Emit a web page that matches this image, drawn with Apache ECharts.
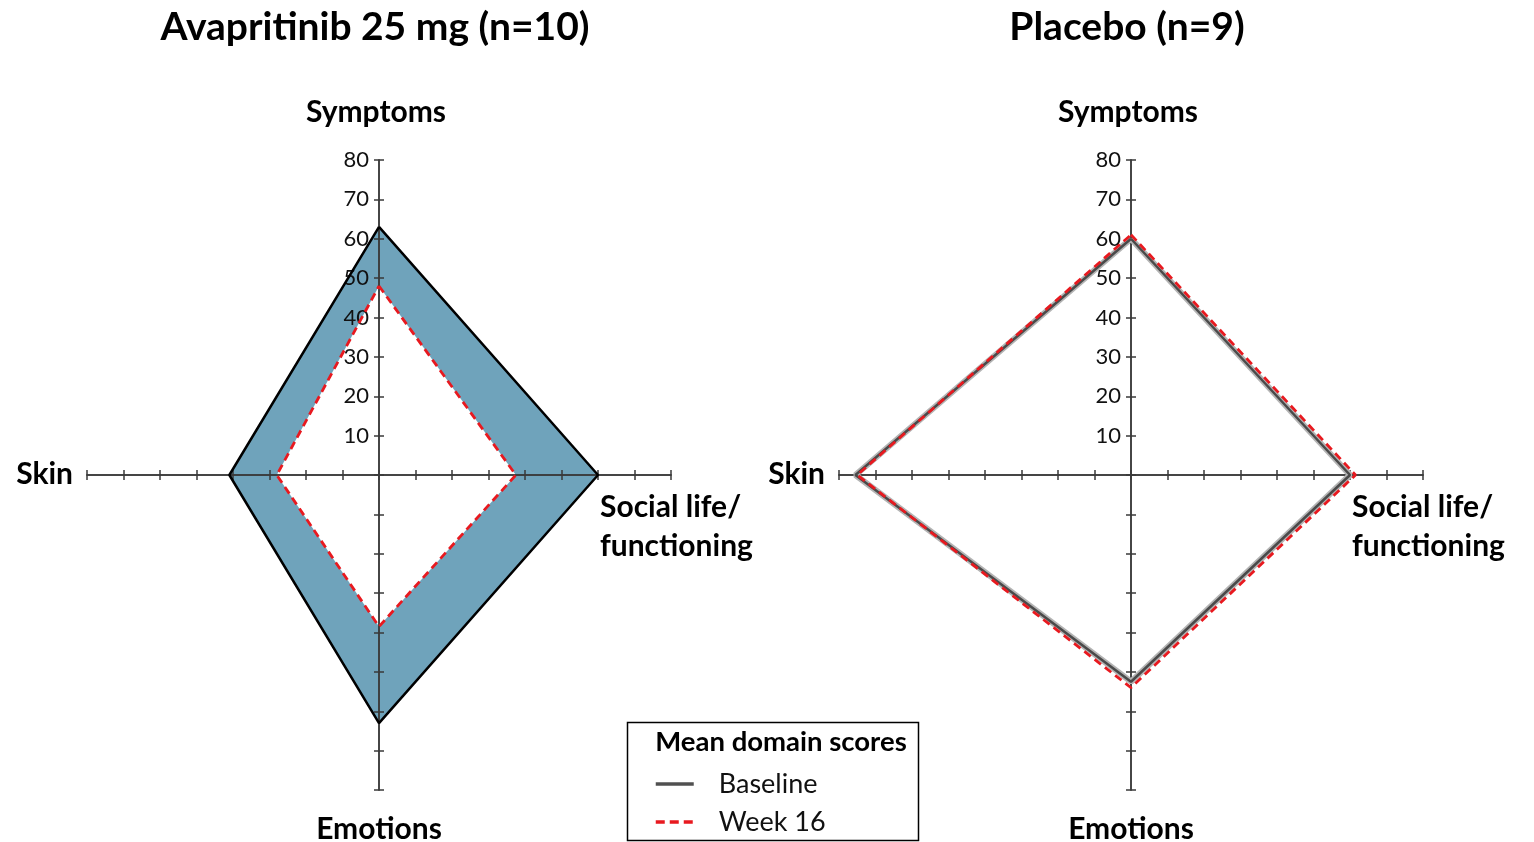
<!DOCTYPE html>
<html>
<head>
<meta charset="utf-8">
<script src="https://cdn.jsdelivr.net/npm/echarts@6/dist/echarts.min.js"></script>
<style>
html,body{margin:0;padding:0;background:#fff;}
#chart{width:1534px;height:842px;}
</style>
</head>
<body>
<div id="chart"></div>
<script>
// ---- data ----
const panelTitles = ['Avapritinib 25 mg (n=10)', 'Placebo (n=9)'];
const categories = ['Symptoms', 'Social life/\nfunctioning', 'Emotions', 'Skin'];
const seriesNames = ['Baseline', 'Week 16'];
const legendTitle = 'Mean domain scores';
const avaBaseline = [63, 60, 63, 41];
const avaWeek16 = [48, 37.5, 38.5, 28];
const plcBaseline = [60, 60, 52.5, 75.5];
const plcWeek16 = [61, 61.5, 54, 75];
const axisMax = 80;
const tickStep = 10;

// ---- helpers ----
const FONT = 'Lato';
const RED = '#e8191f';
function closedPath(v) {
  return [[0, v[0]], [v[1], 0], [0, -v[2]], [-v[3], 0], [0, v[0]]];
}
function polygonSeries(vals, fill, gi, z) {
  return {
    type: 'custom', xAxisIndex: gi * 2, yAxisIndex: gi * 2, silent: true, z: z,
    data: [vals],
    renderItem: function (params, api) {
      const pts = [
        api.coord([0, api.value(0)]),
        api.coord([api.value(1), 0]),
        api.coord([0, -api.value(2)]),
        api.coord([-api.value(3), 0])
      ];
      return { type: 'polygon', shape: { points: pts }, style: { fill: fill } };
    }
  };
}
function lineSeries(name, vals, gi, style, z) {
  return {
    type: 'line', name: name, xAxisIndex: gi * 2, yAxisIndex: gi * 2,
    data: closedPath(vals), symbol: 'none', silent: true, z: z,
    itemStyle: { color: style.color },
    lineStyle: style
  };
}
const GRID_W = 584, GRID_H = 630;
const axisLineStyle = { color: '#3a3a3a', width: 1.5 };
function xAx(gi, pos) {
  return {
    type: 'value', gridIndex: gi, position: pos, offset: -GRID_H / 2, z: 3,
    min: -axisMax, max: axisMax, interval: tickStep,
    axisLine: { show: true, onZero: false, lineStyle: axisLineStyle },
    axisTick: { show: true, length: 5, lineStyle: axisLineStyle },
    axisLabel: { show: false }, splitLine: { show: false }
  };
}
function yAx(gi, pos, labels) {
  return {
    type: 'value', gridIndex: gi, position: pos, offset: -GRID_W / 2, z: 3,
    min: -axisMax, max: axisMax, interval: tickStep,
    axisLine: { show: true, onZero: false, lineStyle: axisLineStyle },
    axisTick: { show: true, length: 5, lineStyle: axisLineStyle },
    axisLabel: {
      show: labels, margin: 10, fontFamily: FONT, fontSize: 22, color: '#111',
      formatter: function (v) { return v > 0 ? String(v) : ''; }
    },
    splitLine: { show: false }
  };
}

const centers = [379, 1131];
const graphics = [];
centers.forEach(function (cx, gi) {
  graphics.push({ type: 'text', x: cx - 4, y: 27, silent: true,
    style: { text: panelTitles[gi], fontFamily: FONT, fontWeight: 'bold', fontSize: 39, fill: '#000', align: 'center', verticalAlign: 'middle' } });
  graphics.push({ type: 'text', x: cx - 3, y: 112, silent: true,
    style: { text: categories[0], fontFamily: FONT, fontWeight: 'bold', fontSize: 30, fill: '#000', align: 'center', verticalAlign: 'middle' } });
  graphics.push({ type: 'text', x: cx + 221, y: 527, silent: true,
    style: { text: categories[1], fontFamily: FONT, fontWeight: 'bold', fontSize: 30, lineHeight: 39, fill: '#000', align: 'left', verticalAlign: 'middle' } });
  graphics.push({ type: 'text', x: cx, y: 829, silent: true,
    style: { text: categories[2], fontFamily: FONT, fontWeight: 'bold', fontSize: 30, fill: '#000', align: 'center', verticalAlign: 'middle' } });
  graphics.push({ type: 'text', x: cx - 306, y: 474, silent: true,
    style: { text: categories[3], fontFamily: FONT, fontWeight: 'bold', fontSize: 30, fill: '#000', align: 'right', verticalAlign: 'middle' } });
});
graphics.push({ type: 'rect', shape: { x: 627.5, y: 722.5, width: 291, height: 118 }, silent: true,
  style: { fill: '#fff', stroke: '#000', lineWidth: 1.5 }, z: -1 });
graphics.push({ type: 'text', x: 781, y: 742, silent: true,
  style: { text: legendTitle, fontFamily: FONT, fontWeight: 'bold', fontSize: 27.5, fill: '#000', align: 'center', verticalAlign: 'middle' } });

const option = {
  animation: false,
  backgroundColor: '#fff',
  grid: [
    { left: 87, top: 160, width: GRID_W, height: GRID_H },
    { left: 839, top: 160, width: GRID_W, height: GRID_H }
  ],
  xAxis: [xAx(0, 'bottom'), xAx(0, 'top'), xAx(1, 'bottom'), xAx(1, 'top')],
  yAxis: [yAx(0, 'left', true), yAx(0, 'right', false), yAx(1, 'left', true), yAx(1, 'right', false)],
  legend: {
    orient: 'vertical', left: 654, top: 770, padding: 0, itemWidth: 38, itemHeight: 14, itemGap: 10,
    selectedMode: false,
    textStyle: { fontFamily: FONT, fontSize: 27, color: '#111', padding: [0, 0, 0, 20], lineHeight: 28 },
    data: [
      { name: seriesNames[0], itemStyle: { opacity: 0 }, lineStyle: { color: '#505050', width: 3.5, type: 'solid' } },
      { name: seriesNames[1], itemStyle: { opacity: 0 }, lineStyle: { color: RED, width: 3.5, type: [9, 5] } }
    ]
  },
  graphic: graphics,
  series: [
    polygonSeries(avaBaseline, '#6fa3bb', 0, 1),
    polygonSeries(avaWeek16, '#ffffff', 0, 2),
    lineSeries(seriesNames[1], avaWeek16, 0, { color: RED, width: 2.8, type: [8, 5] }, 4),
    lineSeries(seriesNames[0], avaBaseline, 0, { color: '#000', width: 2.5 }, 5),
    lineSeries('halo', plcBaseline, 1, { color: '#b4b4b4', width: 6 }, 3),
    lineSeries(seriesNames[0], plcBaseline, 1, { color: '#4a4a4a', width: 2.5 }, 4),
    lineSeries(seriesNames[1], plcWeek16, 1, { color: RED, width: 2.8, type: [8, 5] }, 5)
  ]
};
const chart = echarts.init(document.getElementById('chart'));
chart.setOption(option);
</script>
</body>
</html>
